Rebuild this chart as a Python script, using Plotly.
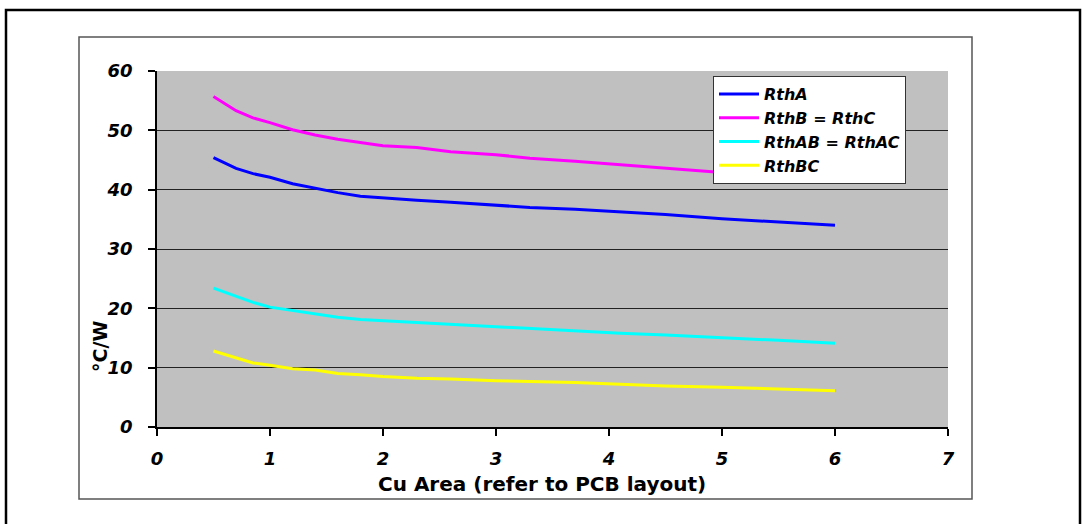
import plotly.graph_objects as go

x_area = [0.5, 0.7, 0.85, 1.0, 1.2, 1.4, 1.6, 1.8, 2.0, 2.3, 2.6, 3.0, 3.3, 3.7, 4.1, 4.5, 5.0, 5.5, 6.0]
rth_a = [45.4, 43.6, 42.7, 42.1, 41.0, 40.2, 39.5, 38.9, 38.6, 38.2, 37.9, 37.4, 37.0, 36.7, 36.3, 35.8, 35.1, 34.6, 34.0]
rth_b = [55.7, 53.3, 52.1, 51.3, 50.1, 49.2, 48.5, 48.0, 47.4, 47.1, 46.4, 45.9, 45.3, 44.8, 44.2, 43.7, 42.9, 42.3, 41.6]
rth_ab = [23.4, 22.0, 21.0, 20.2, 19.6, 19.0, 18.5, 18.1, 17.9, 17.5, 17.3, 16.9, 16.6, 16.2, 15.8, 15.5, 15.1, 14.6, 14.1]
rth_bc = [12.8, 11.6, 10.8, 10.4, 9.8, 9.6, 9.0, 8.8, 8.5, 8.2, 8.1, 7.8, 7.7, 7.5, 7.2, 6.9, 6.7, 6.4, 6.1]

series_names = ["RthA", "RthB = RthC", "RthAB = RthAC", "RthBC"]
series_vals = [rth_a, rth_b, rth_ab, rth_bc]
series_colors = ["#0000FF", "#FF00FF", "#00FFFF", "#FFFF00"]

x_ticks = [0, 1, 2, 3, 4, 5, 6, 7]
y_ticks = [0, 10, 20, 30, 40, 50, 60]

FONT = "DejaVu Sans, Verdana, sans-serif"

fig = go.Figure()
for i, (name, vals, col) in enumerate(zip(series_names, series_vals, series_colors)):
    fig.add_trace(go.Scatter(x=x_area, y=vals, mode="lines", name=name,
                             legendgroup=f"g{i}",
                             line=dict(color=col, width=3)))

W, H = 1082, 524
L, R, T, B = 157, 948, 71, 427


def px(xp):
    return (xp - L) / (R - L)


def py(yp):
    return (B - yp) / (B - T)


tick_font = dict(family=FONT, size=18, weight="bold", style="italic", color="black")

fig.update_layout(
    width=W, height=H,
    margin=dict(l=L, r=W - R, t=T, b=H - B, pad=0),
    paper_bgcolor="white",
    plot_bgcolor="#C0C0C0",
    font=dict(family=FONT, color="black"),
    showlegend=True,
    legend=dict(
        x=px(713), y=py(76), xanchor="left", yanchor="top",
        bgcolor="white", bordercolor="#333333", borderwidth=1,
        font=dict(family=FONT, size=16, weight="bold", style="italic", color="black"),
        itemwidth=40, tracegroupgap=0,
    ),
    xaxis=dict(
        range=[0, 7], tickvals=x_ticks, ticktext=[str(v) for v in x_ticks],
        showgrid=False, zeroline=False,
        showline=True, linecolor="black", linewidth=1.5,
        ticks="outside", ticklen=7, tickcolor="black", tickwidth=1.5,
        ticklabelstandoff=8,
        tickfont=tick_font,
    ),
    yaxis=dict(
        range=[0, 60], tickvals=y_ticks, ticktext=[str(v) for v in y_ticks],
        showgrid=True, gridcolor="#222222", gridwidth=1,
        zeroline=False,
        showline=True, linecolor="black", linewidth=1.5,
        ticks="outside", ticklen=7, tickcolor="black", tickwidth=1.5,
        ticklabelstandoff=12,
        tickfont=tick_font,
    ),
)

fig.add_annotation(text="Cu Area (refer to PCB layout)", xref="paper", yref="paper",
                   x=px(542), y=py(484), xanchor="center", yanchor="middle",
                   showarrow=False,
                   font=dict(family=FONT, size=20, weight="bold", color="black"))
fig.add_annotation(text="°C/W", xref="paper", yref="paper",
                   x=px(100), y=py(347), xanchor="center", yanchor="middle",
                   textangle=-90, showarrow=False,
                   font=dict(family=FONT, size=19, weight="bold", color="black"))

# inner chart-area box
fig.add_shape(type="rect", xref="paper", yref="paper",
              x0=px(79), x1=px(972), y0=py(499), y1=py(37),
              line=dict(color="#555555", width=1.5), layer="below")
# outer frame
fig.add_shape(type="rect", xref="paper", yref="paper",
              x0=px(6), x1=px(1080), y0=py(540), y1=py(10),
              line=dict(color="black", width=2.5), layer="below")

fig.write_html("out.html",
               config={"displayModeBar": False},
               post_script="document.body.style.margin='0px';document.body.style.overflow='hidden';")
